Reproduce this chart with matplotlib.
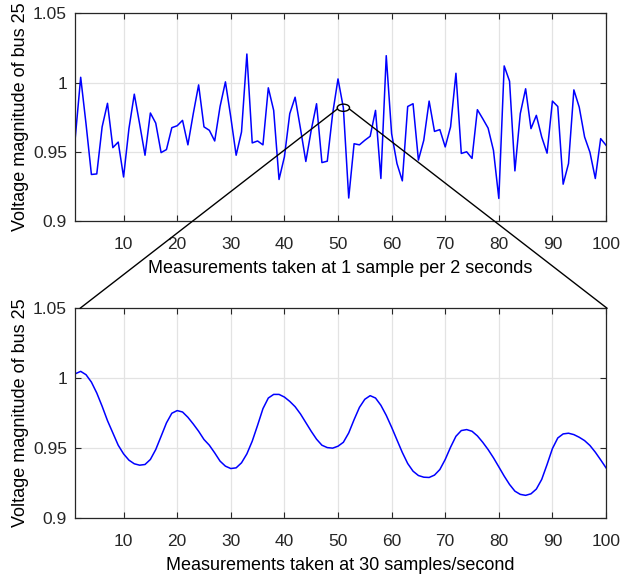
import numpy as np
import matplotlib
matplotlib.use("Agg")
import matplotlib.pyplot as plt
from matplotlib.patches import Ellipse, ConnectionPatch

# slow measurements: 1 sample per 2 seconds
slow = [0.9607, 1.0038, 0.970, 0.9336, 0.934, 0.968, 0.985, 0.953, 0.957, 0.9318,
        0.9667, 0.9916, 0.970, 0.9475, 0.978, 0.9707, 0.9494, 0.9516, 0.9674, 0.9688,
        0.9727, 0.955, 0.9775, 0.9983, 0.968, 0.9655, 0.9578, 0.9827, 1.0005, 0.975,
        0.9475, 0.9643, 1.0206, 0.9564, 0.9578, 0.955, 0.9962, 0.9799, 0.930, 0.9463,
        0.9775, 0.9894, 0.9667, 0.943, 0.9655, 0.9847, 0.9422, 0.9432, 0.9775, 1.0026,
        0.9818, 0.9166, 0.9558, 0.955, 0.9583, 0.9612, 0.9799, 0.9307, 1.0194, 0.9631,
        0.9415, 0.929, 0.9827, 0.9847, 0.944, 0.9583, 0.9866, 0.9647, 0.966, 0.9535,
        0.968, 1.0067, 0.9488, 0.950, 0.9452, 0.9804, 0.9739, 0.9671, 0.951, 0.9163,
        1.012, 1.001, 0.9362, 0.9775, 0.9955, 0.9667, 0.9763, 0.9607, 0.949, 0.9866,
        0.9827, 0.9266, 0.9415, 0.9947, 0.9822, 0.9607, 0.9496, 0.9307, 0.9595, 0.9547]

# fast measurements: 30 samples/second
fast = [1.0031, 1.0048, 1.0024, 0.9971, 0.9893, 0.9798, 0.9695, 0.9607, 0.9519, 0.9457,
        0.9412, 0.9386, 0.9376, 0.9381, 0.9417, 0.9488, 0.9583, 0.9679, 0.9748, 0.9767,
        0.9757, 0.9719, 0.9671, 0.9619, 0.956, 0.9519, 0.9464, 0.9405, 0.9369, 0.9352,
        0.9357, 0.9393, 0.9457, 0.9548, 0.9662, 0.9781, 0.9857, 0.9883, 0.9883, 0.9864,
        0.9833, 0.9795, 0.9743, 0.9681, 0.9619, 0.9562, 0.9519, 0.9502, 0.9498, 0.9512,
        0.954, 0.9607, 0.9702, 0.979, 0.9848, 0.9874, 0.9857, 0.9805, 0.9733, 0.9648,
        0.9557, 0.9467, 0.9388, 0.9333, 0.9302, 0.929, 0.9288, 0.9305, 0.9345, 0.9417,
        0.9505, 0.9583, 0.9624, 0.9631, 0.9619, 0.9586, 0.954, 0.9488, 0.9429, 0.9364,
        0.9298, 0.9238, 0.919, 0.9167, 0.916, 0.9171, 0.9205, 0.9274, 0.9381, 0.9495,
        0.9571, 0.960, 0.9605, 0.9595, 0.9576, 0.9552, 0.9517, 0.9469, 0.9414, 0.9357]

xticks = [10, 20, 30, 40, 50, 60, 70, 80, 90, 100]
yticks = [0.9, 0.95, 1.0, 1.05]
yticklabels = ["0.9", "0.95", "1", "1.05"]
zoom_idx = 51

plt.rcParams['font.family'] = ['Liberation Sans', 'DejaVu Sans']
dark = '#262626'

fig = plt.figure(figsize=(6.21, 5.79), dpi=100)
ax1 = fig.add_axes([0.1213, 0.6183, 0.8546, 0.3587])
ax2 = fig.add_axes([0.1213, 0.1059, 0.8546, 0.3617])

n = np.arange(1, len(slow) + 1)
ax1.plot(n, slow, color='#0000ff', lw=1.1)
ax2.plot(np.arange(1, len(fast) + 1), fast, color='#0000ff', lw=1.1)

for ax, xl in [(ax1, "Measurements taken at 1 sample per 2 seconds"),
               (ax2, "Measurements taken at 30 samples/second")]:
    ax.set_xlim(1, 100)
    ax.set_ylim(0.9, 1.05)
    ax.set_xticks(xticks)
    ax.set_yticks(yticks)
    ax.set_yticklabels(yticklabels)
    ax.grid(True, color='#e3e3e3', lw=0.9)
    ax.set_axisbelow(True)
    ax.tick_params(direction='in', top=True, right=True, length=4, width=0.8,
                   colors=dark, labelsize=12.5)
    ax.tick_params(axis='x', pad=11.5)
    ax.tick_params(axis='y', pad=6)
    for s in ax.spines.values():
        s.set_color(dark)
        s.set_linewidth(0.9)
    ax.set_xlabel(xl, fontsize=13, color='black', labelpad=6)
    ax.set_ylabel("Voltage magnitude of bus 25", fontsize=13, color='black', labelpad=3)

# zoom marker and connectors
yz = slow[zoom_idx - 1]
ax1.add_patch(Ellipse((zoom_idx, yz), width=2.3, height=0.0052, fill=False,
                      ec='black', lw=1.0, zorder=5))
for xa, xb in [(zoom_idx - 1.15, 0.009), (zoom_idx + 1.15, 1.002)]:
    cp = ConnectionPatch(xyA=(xa, yz - 0.001), coordsA=ax1.transData,
                         xyB=(xb, 1.0), coordsB=ax2.transAxes,
                         color='black', lw=1.0)
    fig.add_artist(cp)

fig.savefig("out.png", dpi=100)
